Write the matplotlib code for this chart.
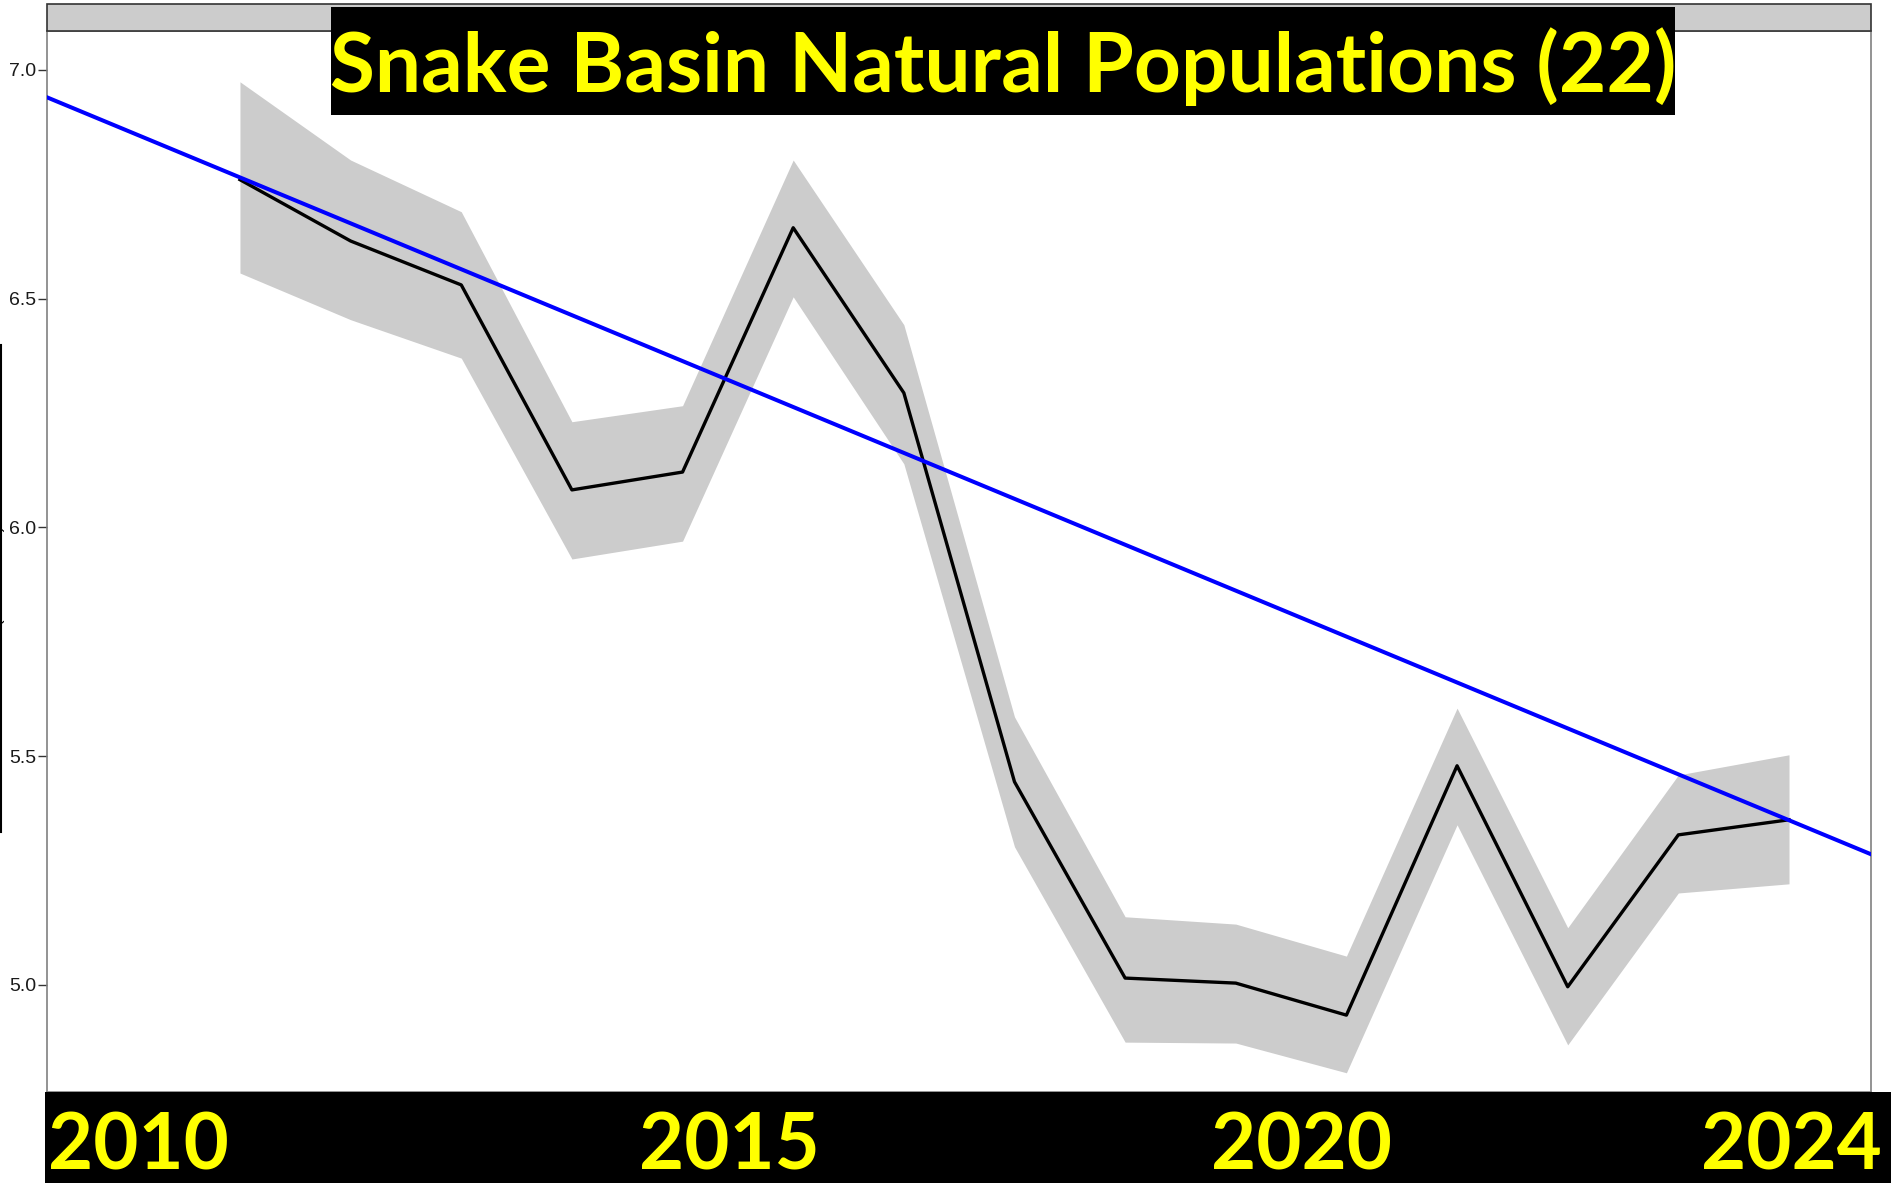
import matplotlib.pyplot as plt
from matplotlib.patches import Rectangle
from matplotlib.lines import Line2D

# data (ln abundance, with interval band)
years = [2010, 2011, 2012, 2013, 2014, 2015, 2016, 2017, 2018, 2019, 2020, 2021, 2022, 2023, 2024]
ln_abund = [6.760, 6.626, 6.530, 6.082, 6.121, 6.655, 6.294, 5.444, 5.015, 5.004, 4.934, 5.479, 4.996, 5.328, 5.361]
upper = [6.974, 6.803, 6.690, 6.231, 6.266, 6.803, 6.443, 5.586, 5.149, 5.133, 5.063, 5.605, 5.125, 5.459, 5.503]
lower = [6.556, 6.454, 6.370, 5.931, 5.970, 6.504, 6.139, 5.302, 4.875, 4.873, 4.808, 5.350, 4.869, 5.201, 5.221]
trend_years = [2010, 2024]
trend_vals = [6.765, 5.360]
y_ticks = [5.0, 5.5, 6.0, 6.5, 7.0]
year_labels = ['2010', '2015', '2020', '2024']
title = 'Snake Basin Natural Populations (22)'

W, H = 1891, 1183
fig = plt.figure(figsize=(W / 100, H / 100), dpi=100)

def fx(px):
    return px / W

def fy(py):
    return 1 - py / H

# main panel
ax = fig.add_axes([fx(47), fy(1092), fx(1871 - 47), (1092 - 31) / H])
ax.fill_between(years, lower, upper, color='#cccccc', lw=0, zorder=1)
ax.plot(years, ln_abund, color='black', lw=2.4, zorder=2)
ax.axline((trend_years[0], trend_vals[0]), (trend_years[1], trend_vals[1]),
          color='#0000ff', lw=2.9, zorder=3)
ax.set_xlim(2008.256, 2024.741)
ax.set_ylim(4.766, 7.085)
ax.set_yticks(y_ticks)
ax.set_yticklabels([f'{v:.1f}' for v in y_ticks], family='Liberation Sans')
ax.tick_params(axis='y', length=6.5, width=1, colors='#333333', labelsize=14, pad=1.5)
ax.tick_params(axis='y', labelcolor='#1a1a1a')
ax.set_xticks([])
for s in ax.spines.values():
    s.set_color('#808080')
    s.set_linewidth(1.2)

# facet strip on top
fig.patches.append(Rectangle((fx(47), fy(31)), fx(1871 - 47), 27 / H, transform=fig.transFigure,
                             facecolor='#cccccc', edgecolor='#333333', lw=1.2, zorder=0))

# partly hidden y-axis label at the far left
fig.text(fx(4), fy(580), 'ln(Abundance)', rotation=90, ha='right', va='center',
         fontsize=12.5, family='Liberation Sans', color='black')
fig.add_artist(Line2D([fx(1), fx(1)], [fy(345), fy(832)], color='black', lw=1.5))

# title overlay
fig.patches.append(Rectangle((fx(331), fy(115)), fx(1675 - 331), 108 / H, transform=fig.transFigure,
                             facecolor='black', edgecolor='none', zorder=5))
fig.text(fx(1003), fy(92), title, ha='center', va='baseline', fontsize=59, fontweight='bold',
         family='Lato', color='#ffff00', zorder=6)

# bottom band with year labels
fig.patches.append(Rectangle((fx(45), 0), 1 - fx(45), (1183 - 1092) / H, transform=fig.transFigure,
                             facecolor='black', edgecolor='none', zorder=5))
year_x = [(48, 'left'), (729, 'center'), (1302, 'center'), (1882, 'right')]
for lab, (px, ha) in zip(year_labels, year_x):
    fig.text(fx(px), 0, lab, ha=ha, va='bottom', fontsize=56, fontweight='bold',
             family='Lato', color='#ffff00', zorder=6)

fig.savefig('out.png', dpi=100)
